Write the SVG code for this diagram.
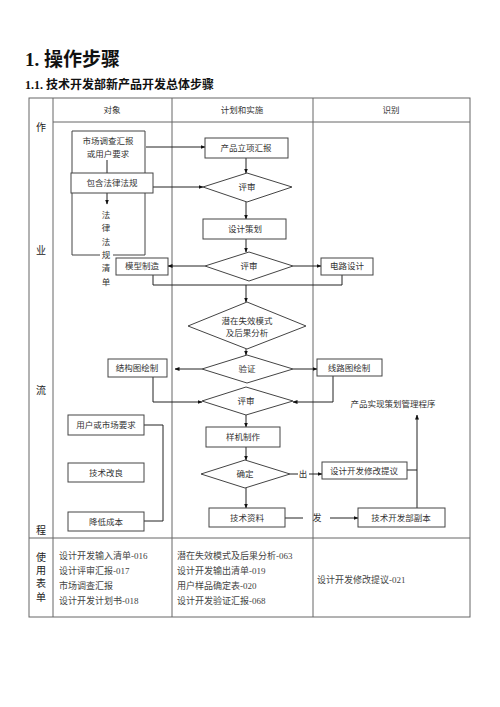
<svg xmlns="http://www.w3.org/2000/svg" width="500" height="707" viewBox="0 0 500 707">
<defs>
<marker id="ah" viewBox="0 0 10 10" refX="9" refY="5" markerWidth="5" markerHeight="5" orient="auto" markerUnits="userSpaceOnUse">
<path d="M0,1 L10,5 L0,9 z" fill="#111"/>
</marker>
</defs>
<style>
.t{font-family:"Liberation Serif","Noto Sans CJK SC",serif;fill:#333;}
.bx{fill:#fff;stroke:#444;stroke-width:1;}
.grid{fill:none;stroke:#666;stroke-width:1;}
.c{fill:none;stroke:#222;stroke-width:1;}
.a{fill:none;stroke:#222;stroke-width:1;marker-end:url(#ah);}
.s{font-size:8.5px;text-anchor:middle;}
.v{font-size:10px;text-anchor:middle;fill:#222;}
.f{font-size:9px;fill:#444;}
</style>
<rect width="500" height="707" fill="#fff"/>
<text class="t" x="25" y="66" style="font-size:19px;font-weight:bold;fill:#111">1. 操作步骤</text>
<text class="t" x="25" y="89" style="font-size:12px;font-weight:bold;fill:#111">1.1.  技术开发部新产品开发总体步骤</text>

<g id="table">
<rect class="grid" x="29" y="98" width="441" height="519"/>
<line class="grid" x1="53" y1="98" x2="53" y2="617"/>
<line class="grid" x1="172" y1="98" x2="172" y2="617"/>
<line class="grid" x1="313" y1="98" x2="313" y2="617"/>
<line class="grid" x1="53" y1="122" x2="470" y2="122"/>
<line class="grid" x1="29" y1="538" x2="470" y2="538"/>
<text class="t s" x="112" y="113">对象</text>
<text class="t s" x="242" y="113">计划和实施</text>
<text class="t s" x="391" y="113">识别</text>
<text class="t v" x="41" y="131">作</text>
<text class="t v" x="41" y="254">业</text>
<text class="t v" x="41" y="394">流</text>
<text class="t v" x="41" y="534">程</text>
<text class="t v" x="41" y="561">使</text>
<text class="t v" x="41" y="574">用</text>
<text class="t v" x="41" y="587">表</text>
<text class="t v" x="41" y="601">单</text>
<text class="t f" x="59" y="559">设计开发输入清单-016</text>
<text class="t f" x="59" y="574">设计评审汇报-017</text>
<text class="t f" x="59" y="589">市场调查汇报</text>
<text class="t f" x="59" y="604">设计开发计划书-018</text>
<text class="t f" x="177" y="559">潜在失效模式及后果分析-063</text>
<text class="t f" x="177" y="574">设计开发输出清单-019</text>
<text class="t f" x="177" y="589">用户样品确定表-020</text>
<text class="t f" x="177" y="604">设计开发验证汇报-068</text>
<text class="t f" x="317" y="583">设计开发修改提议-021</text>
</g>

<g id="connectors">
<line class="a" x1="146" y1="147" x2="205" y2="147"/>
<line class="a" x1="153" y1="187" x2="203" y2="187"/>
<line class="a" x1="246" y1="158" x2="246" y2="173"/>
<line class="a" x1="246" y1="202" x2="246" y2="219"/>
<line class="a" x1="246" y1="239" x2="246" y2="252"/>
<line class="a" x1="205" y1="266" x2="168" y2="266"/>
<line class="a" x1="293" y1="266" x2="321" y2="266"/>
<polyline class="c" points="153,275 153,285 342,285 342,275"/>
<line class="a" x1="246" y1="285" x2="246" y2="302"/>
<line class="a" x1="246" y1="349" x2="246" y2="355"/>
<line class="a" x1="202" y1="369" x2="175" y2="369"/>
<line class="a" x1="293" y1="369" x2="317" y2="369"/>
<polyline class="a" points="153,377 153,402 202,402"/>
<polyline class="a" points="333,376 333,402 293,402"/>
<line class="a" x1="246" y1="415" x2="246" y2="427"/>
<line class="a" x1="246" y1="447" x2="246" y2="460"/>
<line class="c" x1="290" y1="474" x2="298" y2="474"/>
<text class="t s" x="303" y="477">出</text>
<line class="a" x1="309" y1="474" x2="322" y2="474"/>
<line class="a" x1="246" y1="488" x2="246" y2="508"/>
<line class="c" x1="285" y1="518" x2="303" y2="518"/>
<text class="t" x="317" y="521" style="font-size:9px;text-anchor:middle">发</text>
<line class="a" x1="330" y1="518" x2="358" y2="518"/>
<line class="c" x1="407" y1="470" x2="417" y2="470"/>
<line class="a" x1="417" y1="508" x2="417" y2="415"/>
<line class="c" x1="107" y1="160" x2="107" y2="173"/>
<line class="a" x1="107" y1="193" x2="107" y2="204"/>
<polyline class="c" points="144,425 163,425 163,521 144,521"/>
</g>

<g id="n-market">
<path class="c" d="M100,255 L72,255 L72,131 L145,131 L145,255 L113,255" style="stroke:#444"/>
<text class="t s" x="108" y="144">市场调查汇报</text>
<text class="t s" x="108" y="157">或用户要求</text>
</g>
<g id="n-law">
<rect class="bx" x="71" y="173" width="82" height="20"/>
<text class="t s" x="112" y="186">包含法律法规</text>
</g>
<g id="n-lawlist">
<text class="t s" x="106" y="218">法</text>
<text class="t s" x="106" y="231">律</text>
<text class="t s" x="106" y="245">法</text>
<text class="t s" x="106" y="258">规</text>
<text class="t s" x="106" y="271">清</text>
<text class="t s" x="106" y="285">单</text>
</g>
<g id="n-report">
<rect class="bx" x="205" y="138" width="83" height="20"/>
<text class="t s" x="246" y="151">产品立项汇报</text>
</g>
<g id="n-review1">
<polygon class="bx" points="203,187 247,173 292,187 247,202"/>
<text class="t s" x="247" y="190">评审</text>
</g>
<g id="n-plan">
<rect class="bx" x="203" y="219" width="83" height="20"/>
<text class="t s" x="245" y="232">设计策划</text>
</g>
<g id="n-review2">
<polygon class="bx" points="205,266 249,252 293,266 249,281"/>
<text class="t s" x="249" y="269">评审</text>
</g>
<g id="n-model">
<rect class="bx" x="116" y="258" width="52" height="17"/>
<text class="t s" x="142" y="269">模型制造</text>
</g>
<g id="n-circuit">
<rect class="bx" x="321" y="258" width="52" height="17"/>
<text class="t s" x="347" y="269">电路设计</text>
</g>
<g id="n-fmea">
<polygon class="bx" points="188,326 247,302 306,326 247,349"/>
<text class="t s" x="247" y="324">潜在失效模式</text>
<text class="t s" x="247" y="336">及后果分析</text>
</g>
<g id="n-verify">
<polygon class="bx" points="202,369 247,355 293,369 247,383"/>
<text class="t s" x="247" y="372">验证</text>
</g>
<g id="n-struct">
<rect class="bx" x="108" y="359" width="59" height="18"/>
<text class="t s" x="137" y="371">结构图绘制</text>
</g>
<g id="n-wiring">
<rect class="bx" x="317" y="359" width="65" height="17"/>
<text class="t s" x="349" y="371">线路图绘制</text>
</g>
<g id="n-review3">
<polygon class="bx" points="202,401 246,387 293,401 246,415"/>
<text class="t s" x="246" y="404">评审</text>
</g>
<g id="n-proto">
<rect class="bx" x="206" y="427" width="74" height="20"/>
<text class="t s" x="243" y="440">样机制作</text>
</g>
<g id="n-confirm">
<polygon class="bx" points="201,474 245,460 290,474 245,488"/>
<text class="t s" x="245" y="477">确定</text>
</g>
<g id="n-modify">
<rect class="bx" x="322" y="462" width="85" height="17"/>
<text class="t s" x="364" y="474">设计开发修改提议</text>
</g>
<g id="n-proc">
<text class="t s" x="393" y="407">产品实现策划管理程序</text>
</g>
<g id="n-techdata">
<rect class="bx" x="209" y="508" width="76" height="19"/>
<text class="t s" x="247" y="521">技术资料</text>
</g>
<g id="n-copy">
<rect class="bx" x="358" y="508" width="87" height="19"/>
<text class="t s" x="401" y="521">技术开发部副本</text>
</g>
<g id="n-user">
<rect class="bx" x="68" y="415" width="76" height="20"/>
<text class="t s" x="106" y="428">用户或市场要求</text>
</g>
<g id="n-improve">
<rect class="bx" x="68" y="463" width="76" height="19"/>
<text class="t s" x="106" y="476">技术改良</text>
</g>
<g id="n-cost">
<rect class="bx" x="68" y="512" width="76" height="19"/>
<text class="t s" x="106" y="525">降低成本</text>
</g>
</svg>
